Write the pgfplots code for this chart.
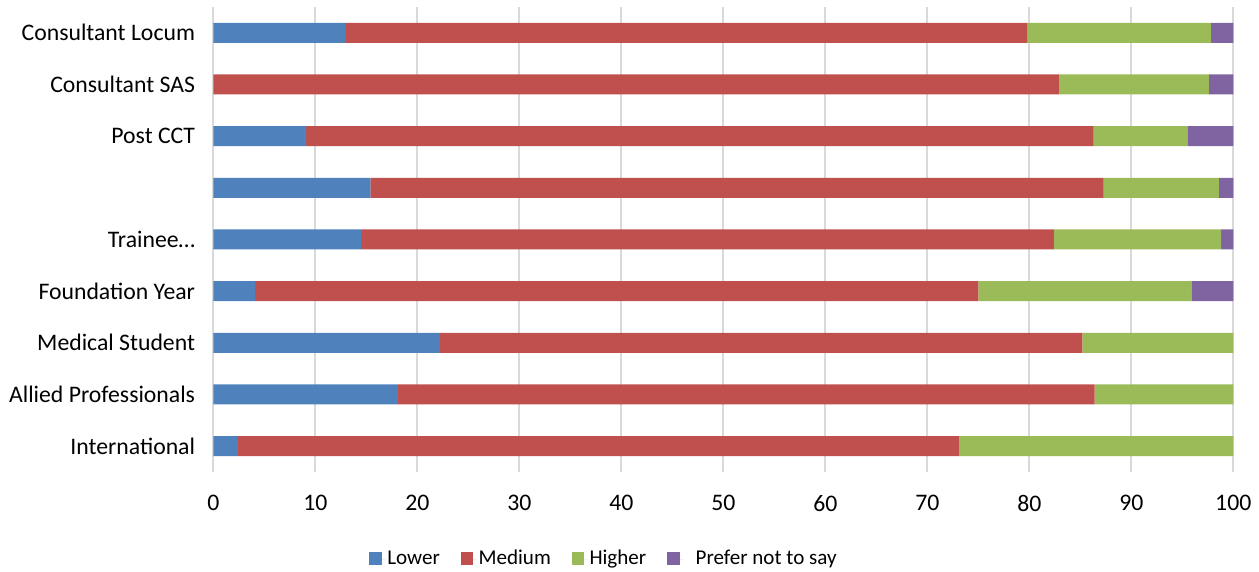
\documentclass[border=0pt]{standalone}
\usepackage{fontspec}
\setmainfont{Carlito}
\usepackage{pgfplots}
\usepackage{pgfplotstable}
\pgfplotsset{compat=1.18}
\definecolor{cLower}{HTML}{4F81BD}
\definecolor{cMedium}{HTML}{C0504D}
\definecolor{cHigher}{HTML}{9BBB59}
\definecolor{cPNS}{HTML}{8064A2}
\definecolor{gridc}{HTML}{D9D9D9}
\pgfplotstableread{
y lower medium higher pns
0 2.4 70.7 26.9 0
1 18.1 68.3 13.6 0
2 22.2 63.0 14.8 0
3 4.1 70.9 20.9 4.1
4 14.5 67.9 16.4 1.2
5 15.4 71.9 11.3 1.4
6 9.1 77.2 9.2 4.5
7 0 82.9 14.7 2.4
8 13.0 66.8 18.0 2.2
}\datatable
\begin{document}
\fontsize{17.8bp}{21bp}\selectfont
\begin{tikzpicture}
\begin{axis}[
  at={(0,0)}, anchor=south west,
  scale only axis,
  width=765bp, height=348.75bp,
  xbar stacked,
  bar width=15bp,
  xmin=0, xmax=100,
  ymin=-0.5, ymax=8.5,
  xtick={0,10,...,100},
  ytick={0,...,8},
  yticklabels={International,Allied Professionals,Medical Student,Foundation Year,Trainee…,{},Post CCT,Consultant SAS,Consultant Locum},
  axis line style={draw=none},
  major tick length=0pt,
  xmajorgrids,
  grid style={draw=gridc, line width=1.4bp},
  /pgf/number format/assume math mode=true,
  tick label style={font=\fontsize{17.8bp}{21bp}\selectfont},
  yticklabel style={anchor=east, inner sep=0pt},
  xticklabel style={anchor=north, inner sep=0pt},
  yticklabel shift=13.5bp,
  xticklabel shift=17.25bp,
  legend columns=4,
  legend style={
    at={(0.383,-0.188)}, anchor=center,
    draw=none, fill=none,
    font=\fontsize{15.8bp}{18bp}\selectfont,
    /tikz/every even column/.append style={column sep=14bp},
    nodes={inner sep=1.5bp},
  },
  legend image code/.code={\fill[#1] (0bp,-4.2bp) rectangle (9.5bp,5.3bp);
    \path (0bp,0bp) -- (12bp,0bp);},
]
\addplot[fill=cLower, draw=none] table[x=lower, y=y] {\datatable};
\addplot[fill=cMedium, draw=none] table[x=medium, y=y] {\datatable};
\addplot[fill=cHigher, draw=none] table[x=higher, y=y] {\datatable};
\addplot[fill=cPNS, draw=none] table[x=pns, y=y] {\datatable};
\legend{Lower,Medium,Higher,{\hspace{8bp}Prefer not to say}}
\end{axis}
\pgfresetboundingbox
\path[use as bounding box] (-160bp,-75bp) rectangle (784.3bp,354bp);
\end{tikzpicture}
\end{document}
